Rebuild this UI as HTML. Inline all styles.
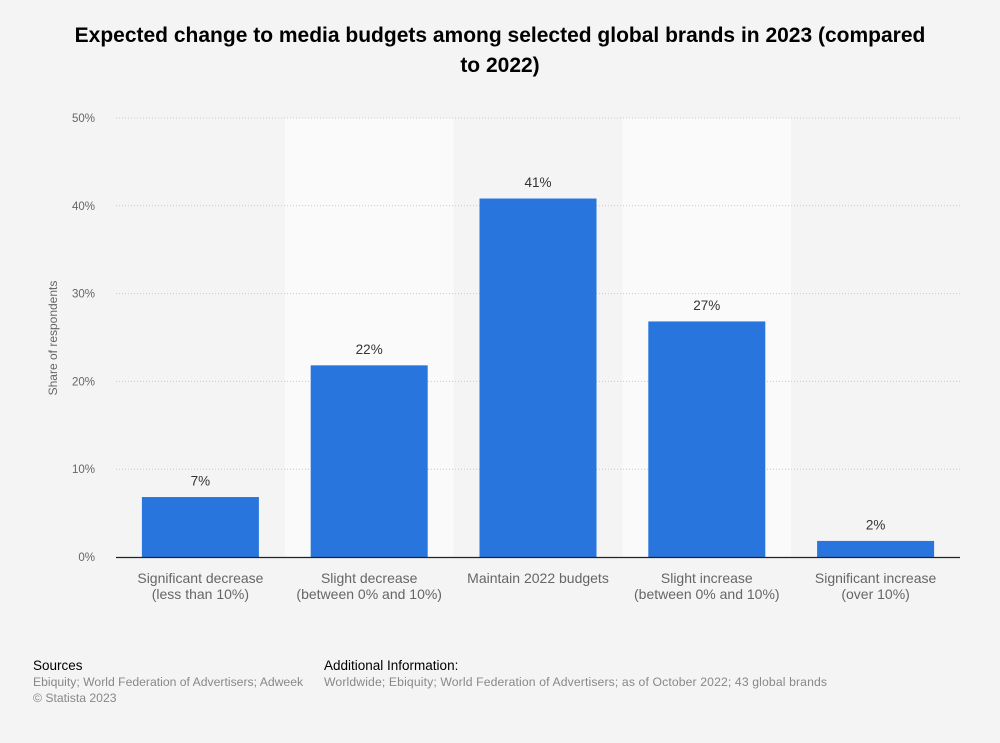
<!DOCTYPE html>
<html><head><meta charset="utf-8"><style>
body{margin:0;background:#f4f4f4;font-family:"Liberation Sans",Arial,sans-serif;}
svg{display:block}
</style></head><body>
<svg id="c" width="1000" height="743" xmlns="http://www.w3.org/2000/svg">
<rect width="1000" height="743" fill="#f4f4f4"/>
<text x="500" y="42" text-anchor="middle" font-size="21" font-weight="bold" fill="#000">Expected change to media budgets among selected global brands in 2023 (compared</text>
<text x="500" y="72" text-anchor="middle" font-size="21" font-weight="bold" fill="#000">to 2022)</text>
<g id="bands"></g><g id="grid"></g><g id="bars"></g><g id="labels"></g>
<text transform="translate(57,338) rotate(-90)" text-anchor="middle" font-size="12" fill="#666">Share of respondents</text>
<text x="33" y="670" font-size="13.5" fill="#000">Sources</text>
<text x="33" y="686" font-size="12.2" fill="#888">Ebiquity; World Federation of Advertisers; Adweek</text>
<text x="33" y="702" font-size="12.2" fill="#888">© Statista 2023</text>
<text x="324" y="670" font-size="13.5" fill="#000">Additional Information:</text>
<text x="324" y="686" font-size="12.2" fill="#888" textLength="503">Worldwide; Ebiquity; World Federation of Advertisers; as of October 2022; 43 global brands</text>
</svg>
<script>
const categories=[["Significant decrease","(less than 10%)"],["Slight decrease","(between 0% and 10%)"],["Maintain 2022 budgets"],["Slight increase","(between 0% and 10%)"],["Significant increase","(over 10%)"]];
const values=[7,22,41,27,2];
const ticks=[0,10,20,30,40,50];
const tickLabels=["0%","10%","20%","30%","40%","50%"];
const NS="http://www.w3.org/2000/svg";
const x0=116,x1=960,y0=557,y1=118,max=50;
const bw=(x1-x0)/categories.length;
const y=v=>y0-(v/max)*(y0-y1);
const xc=i=>x0+bw*(i+0.5);
function mk(t,a,p){const e=document.createElementNS(NS,t);for(const k in a)e.setAttribute(k,a[k]);document.getElementById(p).appendChild(e);return e;}
categories.forEach((c,i)=>{if(i%2==1){const b=mk('rect',{x:x0+bw*i,y:y1,width:bw,height:y0-y1,fill:'#fafafa'},'bands');

}});
ticks.forEach((t,i)=>{
if(t>0){const l=mk('line',{x1:x0,x2:x1,y1:y(t),y2:y(t),stroke:'#c8c8c8','stroke-dasharray':'1,2'},'grid');

}
const tx=mk('text',{x:95,y:y(t)+4,'text-anchor':'end','font-size':11.5,fill:'#666'},'grid');tx.textContent=tickLabels[i];


});
values.forEach((v,i)=>{
const r=mk('rect',{x:xc(i)-58.5,y:y(v)+1.5,width:117,height:y0-y(v)-1.5,fill:'#2876dd'},'bars');


const t=mk('text',{x:xc(i),y:y(v)-10,'text-anchor':'middle','font-size':13.5,fill:'#333'},'labels');t.textContent=v+'%';


categories[i].forEach((s,j)=>{const c=mk('text',{x:xc(i),y:583+j*16,'text-anchor':'middle','font-size':14,fill:'#666'},'labels');c.textContent=s;

});
});
const ax=mk('line',{x1:x0,x2:x1,y1:y0+0.5,y2:y0+0.5,stroke:'#222','stroke-width':1.3},'labels');


</script>
</body></html>
